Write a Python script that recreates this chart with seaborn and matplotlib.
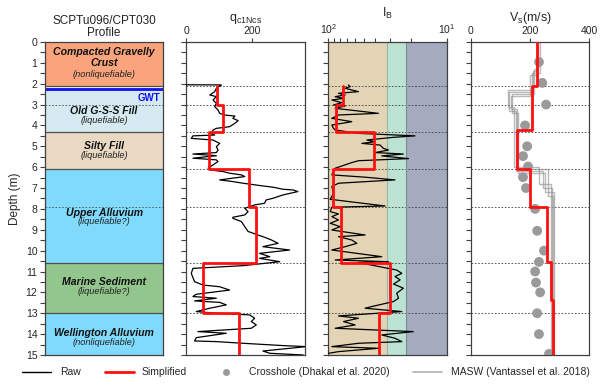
import numpy as np
import pandas as pd
import matplotlib
matplotlib.use("Agg")
import matplotlib.pyplot as plt
from matplotlib.lines import Line2D
from matplotlib.ticker import MultipleLocator, LogLocator, NullFormatter
import seaborn as sns

# ---------------- data ----------------
# Soil profile layers (top, bottom, colour key, name, note)
layer_tops = [0.0, 2.1, 4.3, 6.1, 10.6, 13.0]
layer_bottoms = [2.1, 4.3, 6.1, 10.6, 13.0, 15.0]
layer_names = ["Compacted Gravelly\nCrust", "Old G-S-S Fill", "Silty Fill",
               "Upper Alluvium", "Marine Sediment", "Wellington Alluvium"]
layer_notes = ["(nonliquefiable)", "(liquefiable)", "(liquefiable)",
               "(liquefiable?)", "(liquefiable?)", "(nonliquefiable)"]
layer_colors = ["#F9A47C", "#D4EAF0", "#E9D9C2", "#80DAFD", "#92C68C", "#80DAFD"]
gwt_depth = 2.25
sublayer_lines = [2.1, 3.0, 4.3, 6.1, 7.9, 10.6, 13.0]

# Simplified profiles (layer tops/bottoms)
simp_tops = [2.1, 3.0, 4.3, 6.1, 7.9, 10.6, 13.0]
simp_bottoms = [3.0, 4.3, 6.1, 7.9, 10.6, 13.0, 15.0]
qc_simple = [94, 112, 70, 191, 212, 52, 160]
ib_simple = [75, 86, 41, 92, 78, 30, 37]

vs_tops = [0.0, 2.1, 4.2, 6.1, 7.9, 10.55, 12.36]
vs_bottoms = [2.1, 4.2, 6.1, 7.9, 10.55, 12.36, 15.0]
vs_simple = [224, 207, 156, 200, 258, 271, 278]

# Raw CPT qc1Ncs
qc_depth = [2.05, 2.06, 2.22, 2.38, 2.54, 2.62, 2.78, 2.94, 3.10, 3.26, 3.42, 3.50,
            3.55, 3.66, 3.77, 3.90, 4.06, 4.14, 4.22, 4.38, 4.46, 4.50, 4.62, 4.70,
            4.78, 4.86, 5.02, 5.18, 5.30, 5.37, 5.45, 5.57, 5.65, 5.73, 5.89, 6.05,
            6.13, 6.21, 6.29, 6.37, 6.45, 6.61, 6.69, 6.77, 6.90, 6.96, 7.06, 7.09,
            7.17, 7.33, 7.49, 7.57, 7.73, 7.81, 7.89, 7.97, 8.13, 8.29, 8.40, 8.45,
            8.61, 8.85, 9.08, 9.25, 9.33, 9.49, 9.65, 9.81, 9.97, 10.13, 10.29, 10.37,
            10.53, 10.72, 10.85, 11.09, 11.49, 11.65, 11.73, 11.89, 12.09, 12.20, 12.28,
            12.41, 12.48, 12.60, 12.76, 12.92, 13.00, 13.08, 13.24, 13.40, 13.56, 13.72,
            13.88, 13.96, 14.17, 14.33, 14.36, 14.44, 14.55, 14.60, 14.81, 14.92, 15.0]
qc_raw = [0, 107, 92, 87, 72, 92, 82, 92, 87, 97, 102, 117,
          148, 142, 158, 148, 132, 92, 82, 77, 87, 21, 16, 82,
          92, 102, 92, 97, 92, 21, 92, 21, 92, 97, 82, 67,
          72, 112, 132, 168, 178, 102, 142, 173, 233, 264, 294, 324,
          339, 294, 264, 243, 238, 208, 193, 178, 188, 178, 142, 142,
          168, 178, 188, 218, 233, 259, 279, 233, 314, 223, 254, 223,
          284, 173, 21, 16, 26, 52, 102, 132, 31, 21, 92,
          26, 102, 122, 72, 31, 92, 193, 208, 198, 213, 198,
          36, 122, 31, 26, 92, 173, 294, 365, 233, 254, 355]

# Raw I_B
ib_depth = [2.06, 2.14, 2.22, 2.38, 2.46, 2.54, 2.62, 2.70, 2.78, 2.91, 3.02, 3.07,
            3.18, 3.42, 3.50, 3.66, 3.82, 3.98, 4.14, 4.22, 4.38, 4.50, 4.57, 4.70,
            4.78, 4.86, 4.94, 5.10, 5.18, 5.30, 5.37, 5.46, 5.59, 5.69, 5.78, 5.89,
            6.05, 6.17, 6.37, 6.48, 6.61, 6.77, 6.93, 7.25, 7.54, 7.86, 7.92, 8.13,
            8.24, 8.37, 8.53, 8.69, 8.85, 9.01, 9.25, 9.33, 9.49, 9.65, 9.81, 9.97,
            10.29, 10.45, 10.53, 10.57, 10.93, 11.09, 11.24, 11.40, 11.60, 11.80, 12.04,
            12.28, 12.44, 12.68, 12.76, 12.92, 13.13, 13.24, 13.40, 13.56, 13.72, 13.88,
            14.04, 14.20, 14.36, 14.44, 14.60, 14.68, 14.84, 14.92]
ib_raw = [67.5, 65.3, 72.0, 55.6, 81.9, 72.0, 87.3, 74.3, 93.2, 76.8, 90.2, 72.0,
          87.3, 37.8, 81.9, 93.2, 63.3, 93.2, 90.2, 87.3, 55.6, 18.6, 28.2, 47.3,
          40.3, 52.1, 36.6, 34.3, 31.1, 40.3, 23.3, 35.4, 21.1, 55.6, 63.3, 72.0,
          87.3, 90.2, 93.2, 48.9, 27.4, 81.9, 93.2, 90.2, 96.2, 33.2, 93.2, 96.2,
          81.9, 93.2, 81.9, 96.2, 79.3, 93.2, 48.9, 81.9, 63.3, 57.4, 72.0, 93.2,
          35.4, 87.3, 31.1, 55.6, 26.5, 24.0, 27.4, 24.8, 28.2, 23.3, 26.5,
          25.6, 28.2, 43.0, 48.9, 24.0, 81.9, 55.6, 74.3, 59.3, 87.3, 19.2,
          35.4, 27.4, 24.0, 55.6, 93.2, 37.8, 81.9, 99.4]

# Crosshole Vs (Dhakal et al. 2020)
ch_depth = [0.96, 1.96, 3.0, 4.0, 5.0, 5.47, 5.97, 6.48, 7.0, 8.0, 9.05, 10.0,
            10.54, 11.0, 11.53, 12.0, 13.0, 14.0, 14.95]
ch_vs = [230, 241, 254, 183, 190, 176, 193, 176, 186, 217, 224, 247,
         230, 217, 220, 234, 224, 230, 264]

# MASW profiles (Vantassel et al. 2018): layer boundaries and velocities
masw_bounds = [[0, 1.4, 2.4, 3.3, 6.2, 7.0, 15.0],
               [0, 1.5, 2.3, 3.1, 6.0, 6.8, 15.0],
               [0, 1.3, 2.5, 3.4, 6.3, 7.2, 15.0],
               [0, 1.6, 2.6, 3.2, 6.1, 7.4, 15.0]]
masw_vs = [[225, 210, 130, 152, 245, 275],
           [233, 205, 124, 146, 230, 270],
           [228, 214, 140, 158, 252, 280],
           [222, 200, 134, 155, 262, 276]]


def steps(tops, bottoms, vals):
    d, v = [], []
    for t, b, x in zip(tops, bottoms, vals):
        d += [t, b]
        v += [x, x]
    return d, v


# ---------------- style ----------------
sns.set_style("ticks")
plt.rcParams["font.family"] = ["Liberation Sans", "DejaVu Sans"]
plt.rcParams["mathtext.fontset"] = "custom"
plt.rcParams["mathtext.rm"] = "Liberation Sans"
plt.rcParams["mathtext.it"] = "Liberation Sans:italic"

fig = plt.figure(figsize=(6.0, 3.85), dpi=100)
bottom, height = 0.078, 0.813
axes = [fig.add_axes([0.075, bottom, 0.197, height]),
        fig.add_axes([0.310, bottom, 0.198, height]),
        fig.add_axes([0.547, bottom, 0.198, height]),
        fig.add_axes([0.785, bottom, 0.197, height])]

spine_col = "#404040"
for ax in axes:
    ax.set_ylim(15, 0)
    for s in ax.spines.values():
        s.set_color(spine_col)
        s.set_linewidth(0.9)
    ax.yaxis.set_major_locator(MultipleLocator(1))
    ax.yaxis.set_minor_locator(MultipleLocator(0.5))
    ax.tick_params(axis="y", which="both", direction="out", length=3.5,
                   width=0.8, color=spine_col, labelsize=7.5, pad=2)
    ax.set_ylabel("")

# ---- panel 1: profile ----
ax = axes[0]
ax.set_xlim(0, 1)
for t, b, c in zip(layer_tops, layer_bottoms, layer_colors):
    ax.axhspan(t, b, color=c, lw=0)
for t in layer_tops[1:]:
    ax.axhline(t, color="#505050", lw=0.9)
ax.axhspan(2.1, 2.2, color="white", lw=0)
ax.axhline(gwt_depth, color="#1010F0", lw=2.0)
for d in [3.0, 7.9]:
    ax.axhline(d, color="#505050", lw=0.6, ls=(0, (2, 2)))
ax.text(0.98, 2.68, "GWT", color="#1010F0", fontsize=7, fontweight="bold",
        ha="right", va="center")
name_y = [0.75, 3.3, 5.0, 8.2, 11.5, 13.95]
note_y = [1.55, 3.78, 5.42, 8.62, 11.95, 14.42]
for n, ny, note, nty in zip(layer_names, name_y, layer_notes, note_y):
    ax.text(0.5, ny, n, ha="center", va="center", fontsize=7.6,
            fontweight="bold", style="italic", color="#111111", linespacing=1.15)
    ax.text(0.5, nty, note, ha="center", va="center", fontsize=6.7,
            style="italic", color="#222222")
ax.set_xticks([])
ax.set_ylabel("Depth (m)", fontsize=8.5, labelpad=3)
ax.set_title("SCPTu096/CPT030\nProfile", fontsize=8.5, pad=4, linespacing=1.0,
             color="#222222")


def top_axis(ax):
    ax.xaxis.set_ticks_position("top")
    ax.xaxis.set_label_position("top")
    ax.tick_params(axis="x", which="both", direction="out", length=3,
                   width=0.8, color=spine_col, labelsize=7.5, pad=1)
    ax.tick_params(axis="y", labelleft=False)


def hlines(ax):
    for d in sublayer_lines:
        ax.axhline(d, color="#404040", lw=0.6, ls=(0, (2, 2)), zorder=1)


# ---- panel 2: qc1Ncs ----
ax = axes[1]
hlines(ax)
sns.lineplot(x=qc_raw, y=qc_depth, sort=False, estimator=None, color="black",
             lw=0.9, ax=ax, zorder=3)
d, v = steps(simp_tops, simp_bottoms, qc_simple)
sns.lineplot(x=v, y=d, sort=False, estimator=None, color="#FF1010", lw=2.0,
             ax=ax, zorder=4)
ax.set_xlim(0, 360)
ax.set_ylim(15, 0)
ax.set_xticks([0, 200])
top_axis(ax)
ax.set_xlabel(r"q$_{\mathrm{c1Ncs}}$", fontsize=9, labelpad=4)
ax.set_ylabel("")

# ---- panel 3: I_B ----
ax = axes[2]
ax.set_xscale("log")
ax.axvspan(100, 32, color="#E3D4B6", lw=0)
ax.axvspan(32, 22, color="#BCE2D2", lw=0)
ax.axvspan(22, 10, color="#A4ABBF", lw=0)
ax.axvline(32, color="#9BB5A8", lw=0.8)
ax.axvline(22, color="#7D8A96", lw=0.8)
hlines(ax)
sns.lineplot(x=ib_raw, y=ib_depth, sort=False, estimator=None, color="black",
             lw=0.9, ax=ax, zorder=3)
d, v = steps(simp_tops, simp_bottoms, ib_simple)
sns.lineplot(x=v, y=d, sort=False, estimator=None, color="#FF1010", lw=2.0,
             ax=ax, zorder=4)
ax.set_xlim(100, 10)
ax.set_ylim(15, 0)
ax.xaxis.set_major_locator(LogLocator(base=10, numticks=5))
ax.xaxis.set_minor_locator(LogLocator(base=10, subs=np.arange(2, 10), numticks=10))
ax.xaxis.set_minor_formatter(NullFormatter())
top_axis(ax)
ax.set_xlabel(r"I$_{\mathrm{B}}$", fontsize=9, labelpad=4)
ax.set_ylabel("")

# ---- panel 4: Vs ----
ax = axes[3]
hlines(ax)
for b, vv in zip(masw_bounds, masw_vs):
    d, v = steps(b[:-1], b[1:], vv)
    sns.lineplot(x=v, y=d, sort=False, estimator=None, color="#8C8C8C",
                 lw=1.0, alpha=0.6, ax=ax, zorder=2)
sns.scatterplot(x=ch_vs, y=ch_depth, color="#9A9A9A", s=50, edgecolor="none",
                ax=ax, zorder=3)
d, v = steps(vs_tops, vs_bottoms, vs_simple)
sns.lineplot(x=v, y=d, sort=False, estimator=None, color="#FF1010", lw=2.0,
             ax=ax, zorder=4)
ax.set_xlim(0, 400)
ax.set_ylim(15, 0)
ax.set_xticks([0, 200, 400])
top_axis(ax)
ax.set_xlabel(r"V$_{\mathrm{s}}$(m/s)", fontsize=9, labelpad=4)
ax.set_ylabel("")

# ---- legend ----
handles = [Line2D([], [], color="black", lw=1.0),
           Line2D([], [], color="#FF1010", lw=2.0),
           Line2D([], [], color="#9A9A9A", marker="o", ls="none", markersize=5,
                  markeredgecolor="none"),
           Line2D([], [], color="#B0B0B0", lw=1.2)]
labels = ["Raw", "Simplified", "Crosshole (Dhakal et al. 2020)",
          "MASW (Vantassel et al. 2018)"]
fig.legend(handles, labels, loc="center", bbox_to_anchor=(0.51, 0.033), ncol=4,
           frameon=False, fontsize=7.5, handlelength=2.8, columnspacing=2.3,
           handletextpad=0.8)

fig.savefig("out.png", dpi=100)
